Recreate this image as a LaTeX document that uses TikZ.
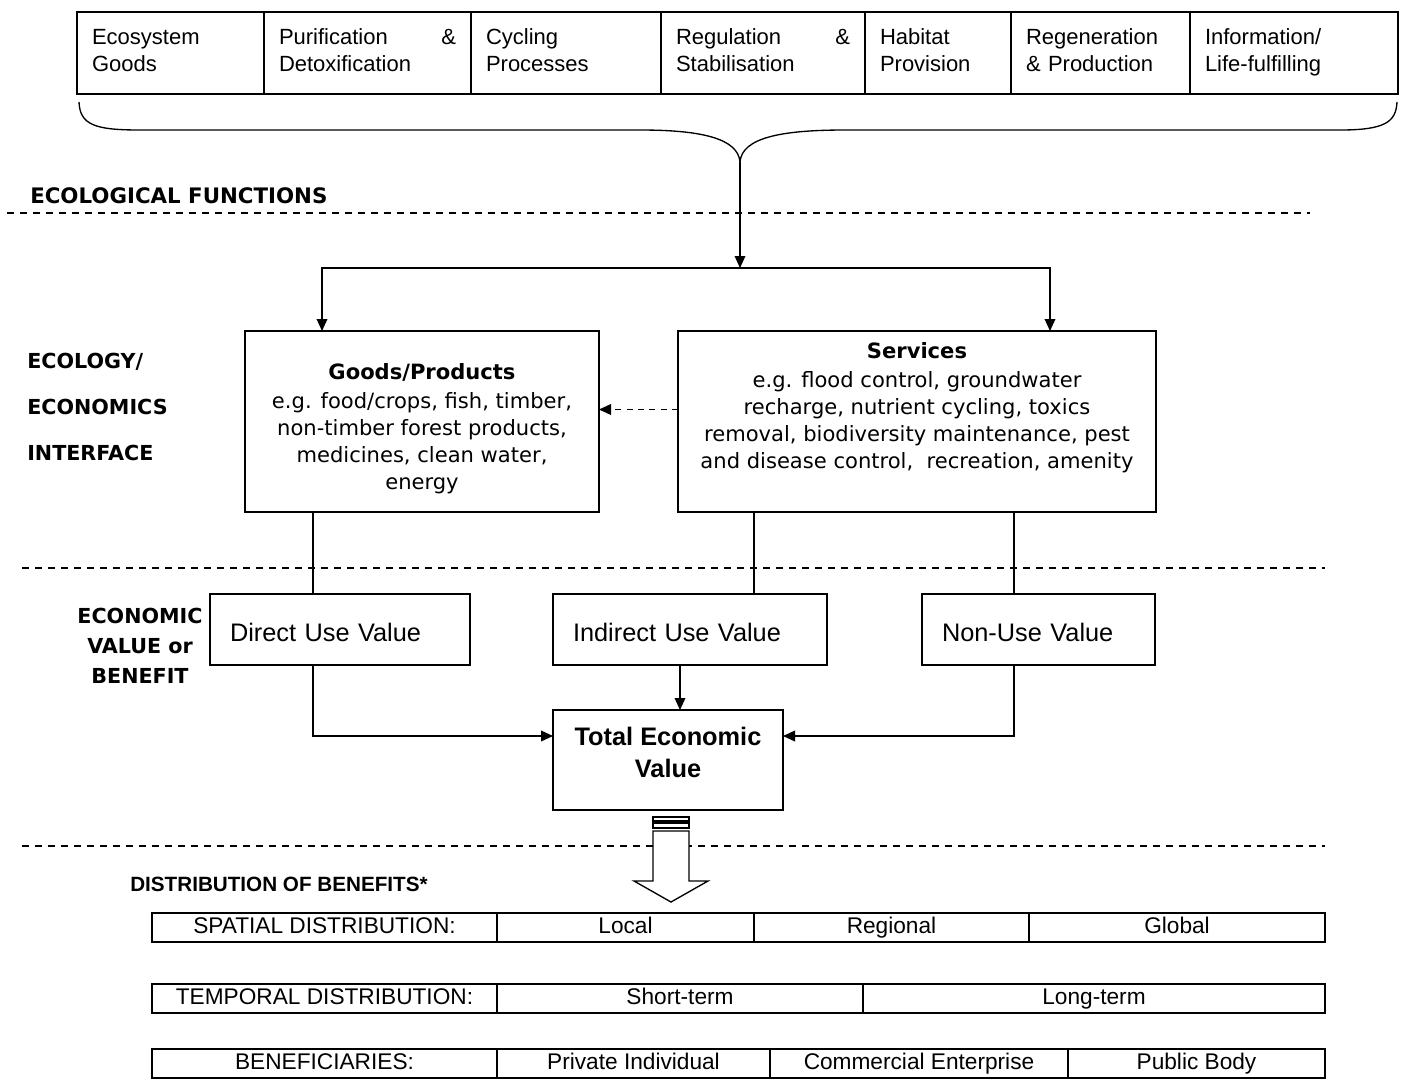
\documentclass[tikz,border=0pt]{standalone}
\usepackage{fontspec}
\setmainfont{Liberation Sans}
\newfontfamily\tahoma{DejaVu Sans}
\usetikzlibrary{arrows.meta,positioning,calc}

\tikzset{
  box/.style={draw, line width=1pt, inner sep=0pt, outer sep=0pt, anchor=north west},
  fcell/.style={draw, line width=1.4pt, outer sep=0pt, inner xsep=11.25pt, inner ysep=0pt,
    minimum height=61.5pt, text height=12pt, text depth=24.5pt, align=left,
    font=\fontsize{16.5}{20.3}\selectfont},
  valbox/.style={box, minimum height=53.25pt, inner xsep=15pt, text height=21pt, text depth=3pt,
    align=left, font=\fontsize{19}{22}\selectfont},
  tcell/.style={draw, line width=1.4pt, outer sep=0pt, inner sep=0pt, minimum height=21.75pt,
    text height=12.5pt, text depth=3.5pt, font=\fontsize{17}{20}\selectfont},
  arr/.style={-{Triangle[length=9pt,width=8pt]}, line width=1pt},
  sepline/.style={line width=1.1pt, dash pattern=on 5.25pt off 4.5pt},
  lab/.style={inner sep=0pt, anchor=west, font=\tahoma\bfseries\fontsize{15.5}{18}\selectfont}
}

\begin{document}
\begin{tikzpicture}[x=0.75pt, y=-0.75pt]
  \useasboundingbox (0,0) rectangle (1402,1079);

  % ecological functions
  \node[fcell, text width=117.75pt, anchor=north west] (eco) at (77,12) {Ecosystem\\Goods};
  \node[fcell, text width=132.75pt, right=0pt of eco] (pur) {Purification\hfill\&\\Detoxification};
  \node[fcell, text width=120pt, right=0pt of pur] (cyc) {Cycling\\Processes};
  \node[fcell, text width=130.5pt, right=0pt of cyc] (reg) {Regulation\hfill\&\\Stabilisation};
  \node[fcell, text width=87pt, right=0pt of reg] (hab) {Habitat\\Provision};
  \node[fcell, text width=111.75pt, right=0pt of hab] (gen) {Regeneration\\\& Production};
  \node[fcell, text width=133.5pt, right=0pt of gen] (inf) {Information/\\Life-fulfilling};

  \coordinate (tip) at (740,162);
  \coordinate (split) at (740,268);
  \draw[line width=1pt] ($(eco.south west)+(2,8)$) .. controls (80,125) and (95,130) .. (140,130)
    -- (640,130) .. controls (700,130) and (738,138) .. (tip)
    .. controls (742,138) and (780,130) .. (845,130)
    -- (1340,130) .. controls (1385,130) and (1396,122) .. ($(inf.south east)+(-1,8)$);

  % separators
  \draw[sepline] (7,213) -- (1310,213);
  \draw[sepline] (22,568) -- (1325,568);
  \draw[sepline] (22,846) -- (1325,846);

  \node[lab, font=\tahoma\bfseries\fontsize{16}{18}\selectfont] (lfun) at (30,196) {ECOLOGICAL FUNCTIONS};
  \node[lab] (lint1) at (27,362) {ECOLOGY/};
  \node[lab] (lint2) at (27,407) {ECONOMICS};
  \node[lab] (lint3) at (27,453) {INTERFACE};
  \node[lab, anchor=center, align=center, font=\tahoma\bfseries\fontsize{15.5}{22.5}\selectfont]
    (lval) at (140,646) {ECONOMIC\\VALUE or\\BENEFIT};
  \node[inner sep=0pt, anchor=west, font=\bfseries\fontsize{15.5}{18}\selectfont]
    (ldist) at (130,884) {DISTRIBUTION OF BENEFITS*};

  % goods and services
  \node[box, minimum width=265.5pt, minimum height=135.75pt] (goods) at (245,331) {};
  \node[box, minimum width=358.5pt, minimum height=135.75pt] (serv) at (678,331) {};
  \node[align=center, font=\tahoma\fontsize{15.8}{20.25}\selectfont] (goodstxt) at (422,429)
    {\textbf{Goods/Products}\\[1.5pt] e.g. food/crops, fish, timber,\\ non-timber forest products,\\
     medicines, clean water,\\ energy};
  \node[align=center, font=\tahoma\fontsize{15.8}{20.25}\selectfont] (servtxt) at (917,408)
    {\textbf{Services}\\[1.5pt] e.g. flood control, groundwater\\ recharge, nutrient cycling, toxics\\
     removal, biodiversity maintenance, pest\\ and disease control,~ recreation, amenity};

  \draw[arr] (tip) -- (split);
  \draw[arr] (split) -| ($(goods.north west)+(77,0)$);
  \draw[arr] (split) -| ($(serv.north west)+(372,0)$);
  \draw[arr, dashed, dash pattern=on 4.5pt off 4pt] ($(serv.west)+(0,-12)$) -- ($(goods.east)+(0,-12)$);

  % values
  \node[valbox, text width=165pt] (direct) at (210,594) {Direct Use Value};
  \node[valbox, text width=175.5pt] (indirect) at (553,594) {Indirect Use Value};
  \node[valbox, text width=144.75pt] (nonuse) at (922,594) {Non-Use Value};
  \node[box, minimum width=172.5pt, minimum height=75pt] (tev) at (553,710) {};
  \node[align=center, font=\bfseries\fontsize{19}{24}\selectfont] (tevtxt) at (668,752) {Total Economic\\Value};

  \coordinate (gout) at ($(goods.south west)+(68,0)$);
  \coordinate (sout1) at ($(serv.south west)+(76,0)$);
  \coordinate (sout2) at ($(serv.south west)+(336,0)$);
  \draw[line width=1pt] (gout) -- (gout |- direct.north);
  \draw[line width=1pt] (sout1) -- (sout1 |- indirect.north);
  \draw[line width=1pt] (sout2) -- (sout2 |- nonuse.north);
  \draw[arr] (gout |- direct.south) |- ($(tev.west)+(0,-24)$);
  \draw[arr] (sout2 |- nonuse.south) |- ($(tev.east)+(0,-24)$);
  \draw[arr] ($(indirect.south west)+(127,0)$) -- ($(tev.north west)+(127,0)$);

  % hollow arrow to the distribution
  \begin{scope}[shift={($(tev.south)+(3,0)$)}, line width=1pt]
    \draw (-18,7) rectangle (18,11);
    \draw (-18,13) rectangle (18,18);
    \draw[fill=white] (-18,21) -- (-18,71) -- (-37,71) -- (0,92) -- (37,71) -- (18,71) -- (18,21) -- cycle;
  \end{scope}

  % distribution of benefits
  \node[tcell, minimum width=258.75pt, anchor=north west] (sp0) at (152,913) {SPATIAL DISTRIBUTION:};
  \node[tcell, minimum width=192.75pt, right=0pt of sp0] (sp1) {Local};
  \node[tcell, minimum width=206.25pt, right=0pt of sp1] (sp2) {Regional};
  \node[tcell, minimum width=222pt, right=0pt of sp2] (sp3) {Global};

  \node[tcell, minimum width=258.75pt, anchor=north west] (tm0) at (152,984) {TEMPORAL DISTRIBUTION:};
  \node[tcell, minimum width=274.5pt, right=0pt of tm0] (tm1) {Short-term};
  \node[tcell, minimum width=346.5pt, right=0pt of tm1] (tm2) {Long-term};

  \node[tcell, minimum width=258.75pt, anchor=north west] (bf0) at (152,1049) {BENEFICIARIES:};
  \node[tcell, minimum width=204.75pt, right=0pt of bf0] (bf1) {Private Individual};
  \node[tcell, minimum width=223.5pt, right=0pt of bf1] (bf2) {Commercial Enterprise};
  \node[tcell, minimum width=192.75pt, right=0pt of bf2] (bf3) {Public Body};
\end{tikzpicture}
\end{document}
